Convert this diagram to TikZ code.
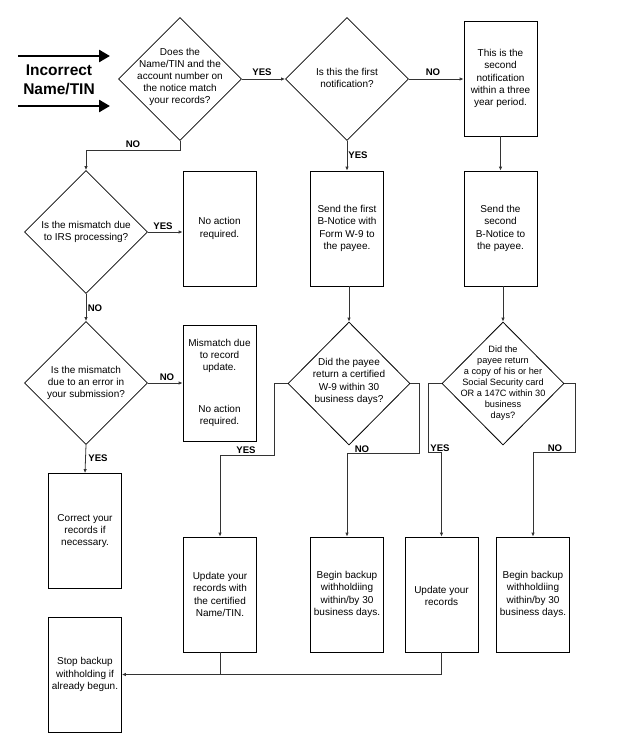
\documentclass[tikz,border=0pt]{standalone}
\usepackage{fontspec}
\setmainfont{Liberation Sans}
\usetikzlibrary{shapes.geometric,arrows.meta}

\tikzset{
  decision/.style={draw, diamond, line width=.8pt, minimum width=123pt, minimum height=123pt, inner sep=0pt},
  dtext/.style={align=center, font=\fontsize{10}{12.2}\selectfont},
  process/.style={draw, line width=.8pt, minimum width=73pt, minimum height=115pt, inner sep=1pt, align=center, font=\fontsize{10}{12.2}\selectfont},
  arr/.style={draw=black!80, line width=.8pt, -{Latex[length=4pt,width=3.5pt]}},
  link/.style={draw=black!80, line width=.8pt},
  yesno/.style={font=\bfseries\fontsize{9.6}{10}\selectfont, inner sep=0pt},
  bigarr/.style={line width=2.6pt, -{Triangle[length=11pt,width=12pt]}},
}

\begin{document}
\begin{tikzpicture}[x=1pt, y=-1pt]
\useasboundingbox (0,0) rectangle (616,752);

% entry arrows
\coordinate (in1) at (18,56);
\coordinate (in2) at (18,106);
\draw[bigarr] (in1) -- ++(92,0);
\draw[bigarr] (in2) -- ++(92,0);
\node[font=\bfseries\fontsize{15.5}{19}\selectfont, align=center] (title) at (59,80) {Incorrect\\Name/TIN};

% top row
\node[decision, label={[dtext, yshift=2pt]center:Does the\\Name/TIN and the\\account number on\\the notice match\\your records?}] (d1) at (180,79) {};
\node[decision, label={[dtext, yshift=1pt]center:Is this the first\\notification?}] (d2) at (347,79) {};
\node[process] (third) at (500.5,78.5) {This is the\\second\\notification\\within a three\\year period.};

% second row
\node[decision, label={[dtext]center:Is the mismatch due\\to IRS processing?}] (d3) at (86,232) {};
\node[process] (noact) at (219.5,228.5) {No action\\required.};
\node[process] (first) at (347,228.5) {Send the first\\B-Notice with\\Form W-9 to\\the payee.};
\node[process] (second) at (500.5,228.5) {Send the\\second\\B-Notice to\\the payee.};

% third row
\node[decision, label={[dtext]center:Is the mismatch\\due to an error in\\your submission?}] (d4) at (86,383) {};
\node[process, minimum height=116pt] (update) at (219.5,383) {Mismatch due\\to record\\update.\\[30pt]No action\\required.};
\node[decision, minimum width=122pt, label={[dtext, yshift=2pt]center:Did the payee\\return a certified\\W-9 within 30\\business days?}] (d5) at (349,383.5) {};
\node[decision, minimum width=122pt, label={[dtext, font=\fontsize{9.2}{11}\selectfont]center:Did the\\payee return\\a copy of his or her\\Social Security card\\OR a 147C within 30\\business\\days?}] (d6) at (503,383.5) {};

% bottom rows
\node[process] (correct) at (85,531) {Correct your\\records if\\necessary.};
\node[process] (stop) at (85,674.5) {Stop backup\\withholding if\\already begun.};
\node[process] (cert) at (220,594.5) {Update your\\records with\\the certified\\Name/TIN.};
\node[process] (begin1) at (347,594.5) {Begin backup\\withholdiing\\within/by 30\\business days.};
\node[process] (records) at (441.5,594.5) {\\[-2pt]Update your\\records};
\node[process] (begin2) at (533,594.5) {Begin backup\\withholdiing\\within/by 30\\business days.};

% connectors
\draw[arr] (d1.east) -- (d2.west);
\draw[arr] (d2.east) -- (d2.east -| third.west);
\draw[arr] (d2.south) -- (first.north);
\draw[arr] (third.south) -- (second.north);
\draw[arr] (d1.south) -- ++(0,9) -| (d3.north);
\draw[arr] (d3.east) -- (d3.east -| noact.west);
\draw[arr] (d3.south) -- (d4.north);
\draw[arr] (d4.east) -- (update.west);
\draw[arr] (d4.south) -- (correct.north);
\draw[arr] (d5.north |- first.south) -- (d5.north);
\draw[arr] (d6.north |- second.south) -- (d6.north);
\draw[arr] (d5.west) -- ++(-13,0) -- ++(0,72) -| (cert.north);
\draw[arr] (d5.east) -- ++(9,0) -- ++(0,70) -| (begin1.north);
\draw[arr] (d6.west) -- ++(-13,0) -- ++(0,69) -| (records.north);
\draw[arr] (d6.east) -- ++(11,0) -- ++(0,69) -| (begin2.north);
\draw[arr] (records.south) |- (stop.east);
\draw[link] (cert.south) -- (cert.south |- stop.east);

% labels
\node[yesno] (l1) at (262,72) {YES};
\node[yesno] (l2) at (433,72) {NO};
\node[yesno] (l3) at (133,144) {NO};
\node[yesno] (l4) at (358,155) {YES};
\node[yesno] (l5) at (163,226) {YES};
\node[yesno] (l6) at (95,308) {NO};
\node[yesno] (l7) at (167,377) {NO};
\node[yesno] (l8) at (98,458) {YES};
\node[yesno] (l9) at (246,450) {YES};
\node[yesno] (l10) at (362,449) {NO};
\node[yesno] (l11) at (440,448) {YES};
\node[yesno] (l12) at (555,448) {NO};
\end{tikzpicture}
\end{document}
